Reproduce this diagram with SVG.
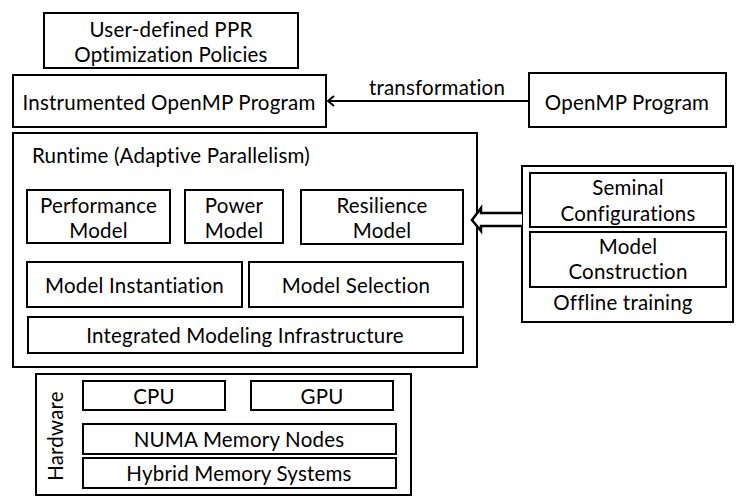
<svg xmlns="http://www.w3.org/2000/svg" width="742" height="503" viewBox="0 0 742 503">
<style>
rect{fill:#fff;stroke:#000;stroke-width:2}
text{font-family:Lato,"Open Sans",sans-serif;font-size:20.5px;fill:#000;text-anchor:middle;letter-spacing:0.2px}
.l{text-anchor:start}
.c{fill:none;stroke:#000;stroke-width:2}
</style>
<rect x="0" y="0" width="742" height="503" style="stroke:none"/>
<g id="policies"><rect x="44" y="13" width="254" height="55"/><text x="171" y="37">User-defined PPR</text><text x="171" y="62">Optimization Policies</text></g>
<g id="instrumented"><rect x="13" y="75" width="313" height="52"/><text x="169" y="110">Instrumented OpenMP Program</text></g>
<g id="openmp"><rect x="529" y="73" width="197" height="54"/><text x="627" y="110">OpenMP Program</text></g>
<g id="runtime"><rect x="13" y="133" width="464" height="234"/><text class="l" x="32" y="163">Runtime (Adaptive Parallelism)</text></g>
<g id="perf"><rect x="27" y="190" width="143" height="53"/><text x="98.5" y="213">Performance</text><text x="98.5" y="238">Model</text></g>
<g id="power"><rect x="185" y="190" width="98" height="53"/><text x="234" y="213">Power</text><text x="234" y="238">Model</text></g>
<g id="resilience"><rect x="301" y="190" width="162" height="54"/><text x="382" y="213">Resilience</text><text x="382" y="238">Model</text></g>
<g id="instantiation"><rect x="27" y="262" width="215" height="45"/><text x="134.5" y="293">Model Instantiation</text></g>
<g id="selection"><rect x="249" y="262" width="214" height="45"/><text x="356" y="293">Model Selection</text></g>
<g id="infra"><rect x="28" y="317" width="435" height="36"/><text x="245" y="343">Integrated Modeling Infrastructure</text></g>
<g id="offline"><rect x="522" y="166" width="211" height="156"/><text x="623" y="310">Offline training</text></g>
<g id="seminal"><rect x="530" y="173" width="196" height="54"/><text x="628" y="195">Seminal</text><text x="628" y="221">Configurations</text></g>
<g id="construction"><rect x="530" y="232" width="196" height="55"/><text x="628" y="254">Model</text><text x="628" y="279">Construction</text></g>
<g id="hardware"><rect x="36" y="374" width="375" height="121"/><text transform="translate(63,436) rotate(-90)">Hardware</text></g>
<g id="cpu"><rect x="83" y="381" width="142" height="29"/><text x="154" y="404">CPU</text></g>
<g id="gpu"><rect x="251" y="381" width="142" height="29"/><text x="322" y="404">GPU</text></g>
<g id="numa"><rect x="83" y="424" width="313" height="30"/><text x="239" y="447">NUMA Memory Nodes</text></g>
<g id="hybrid"><rect x="83" y="458" width="313" height="30"/><text x="239" y="481">Hybrid Memory Systems</text></g>
<g id="connectors">
<line class="c" x1="529" y1="101" x2="328" y2="101"/>
<polyline class="c" points="334,96 328,101 334,106"/>
<text x="437" y="95">transformation</text>
<path class="c" style="fill:#fff;stroke-width:2.5" d="M522,213 H481 V208 L472,220 L481,231 V226 H522"/>
</g>
</svg>
